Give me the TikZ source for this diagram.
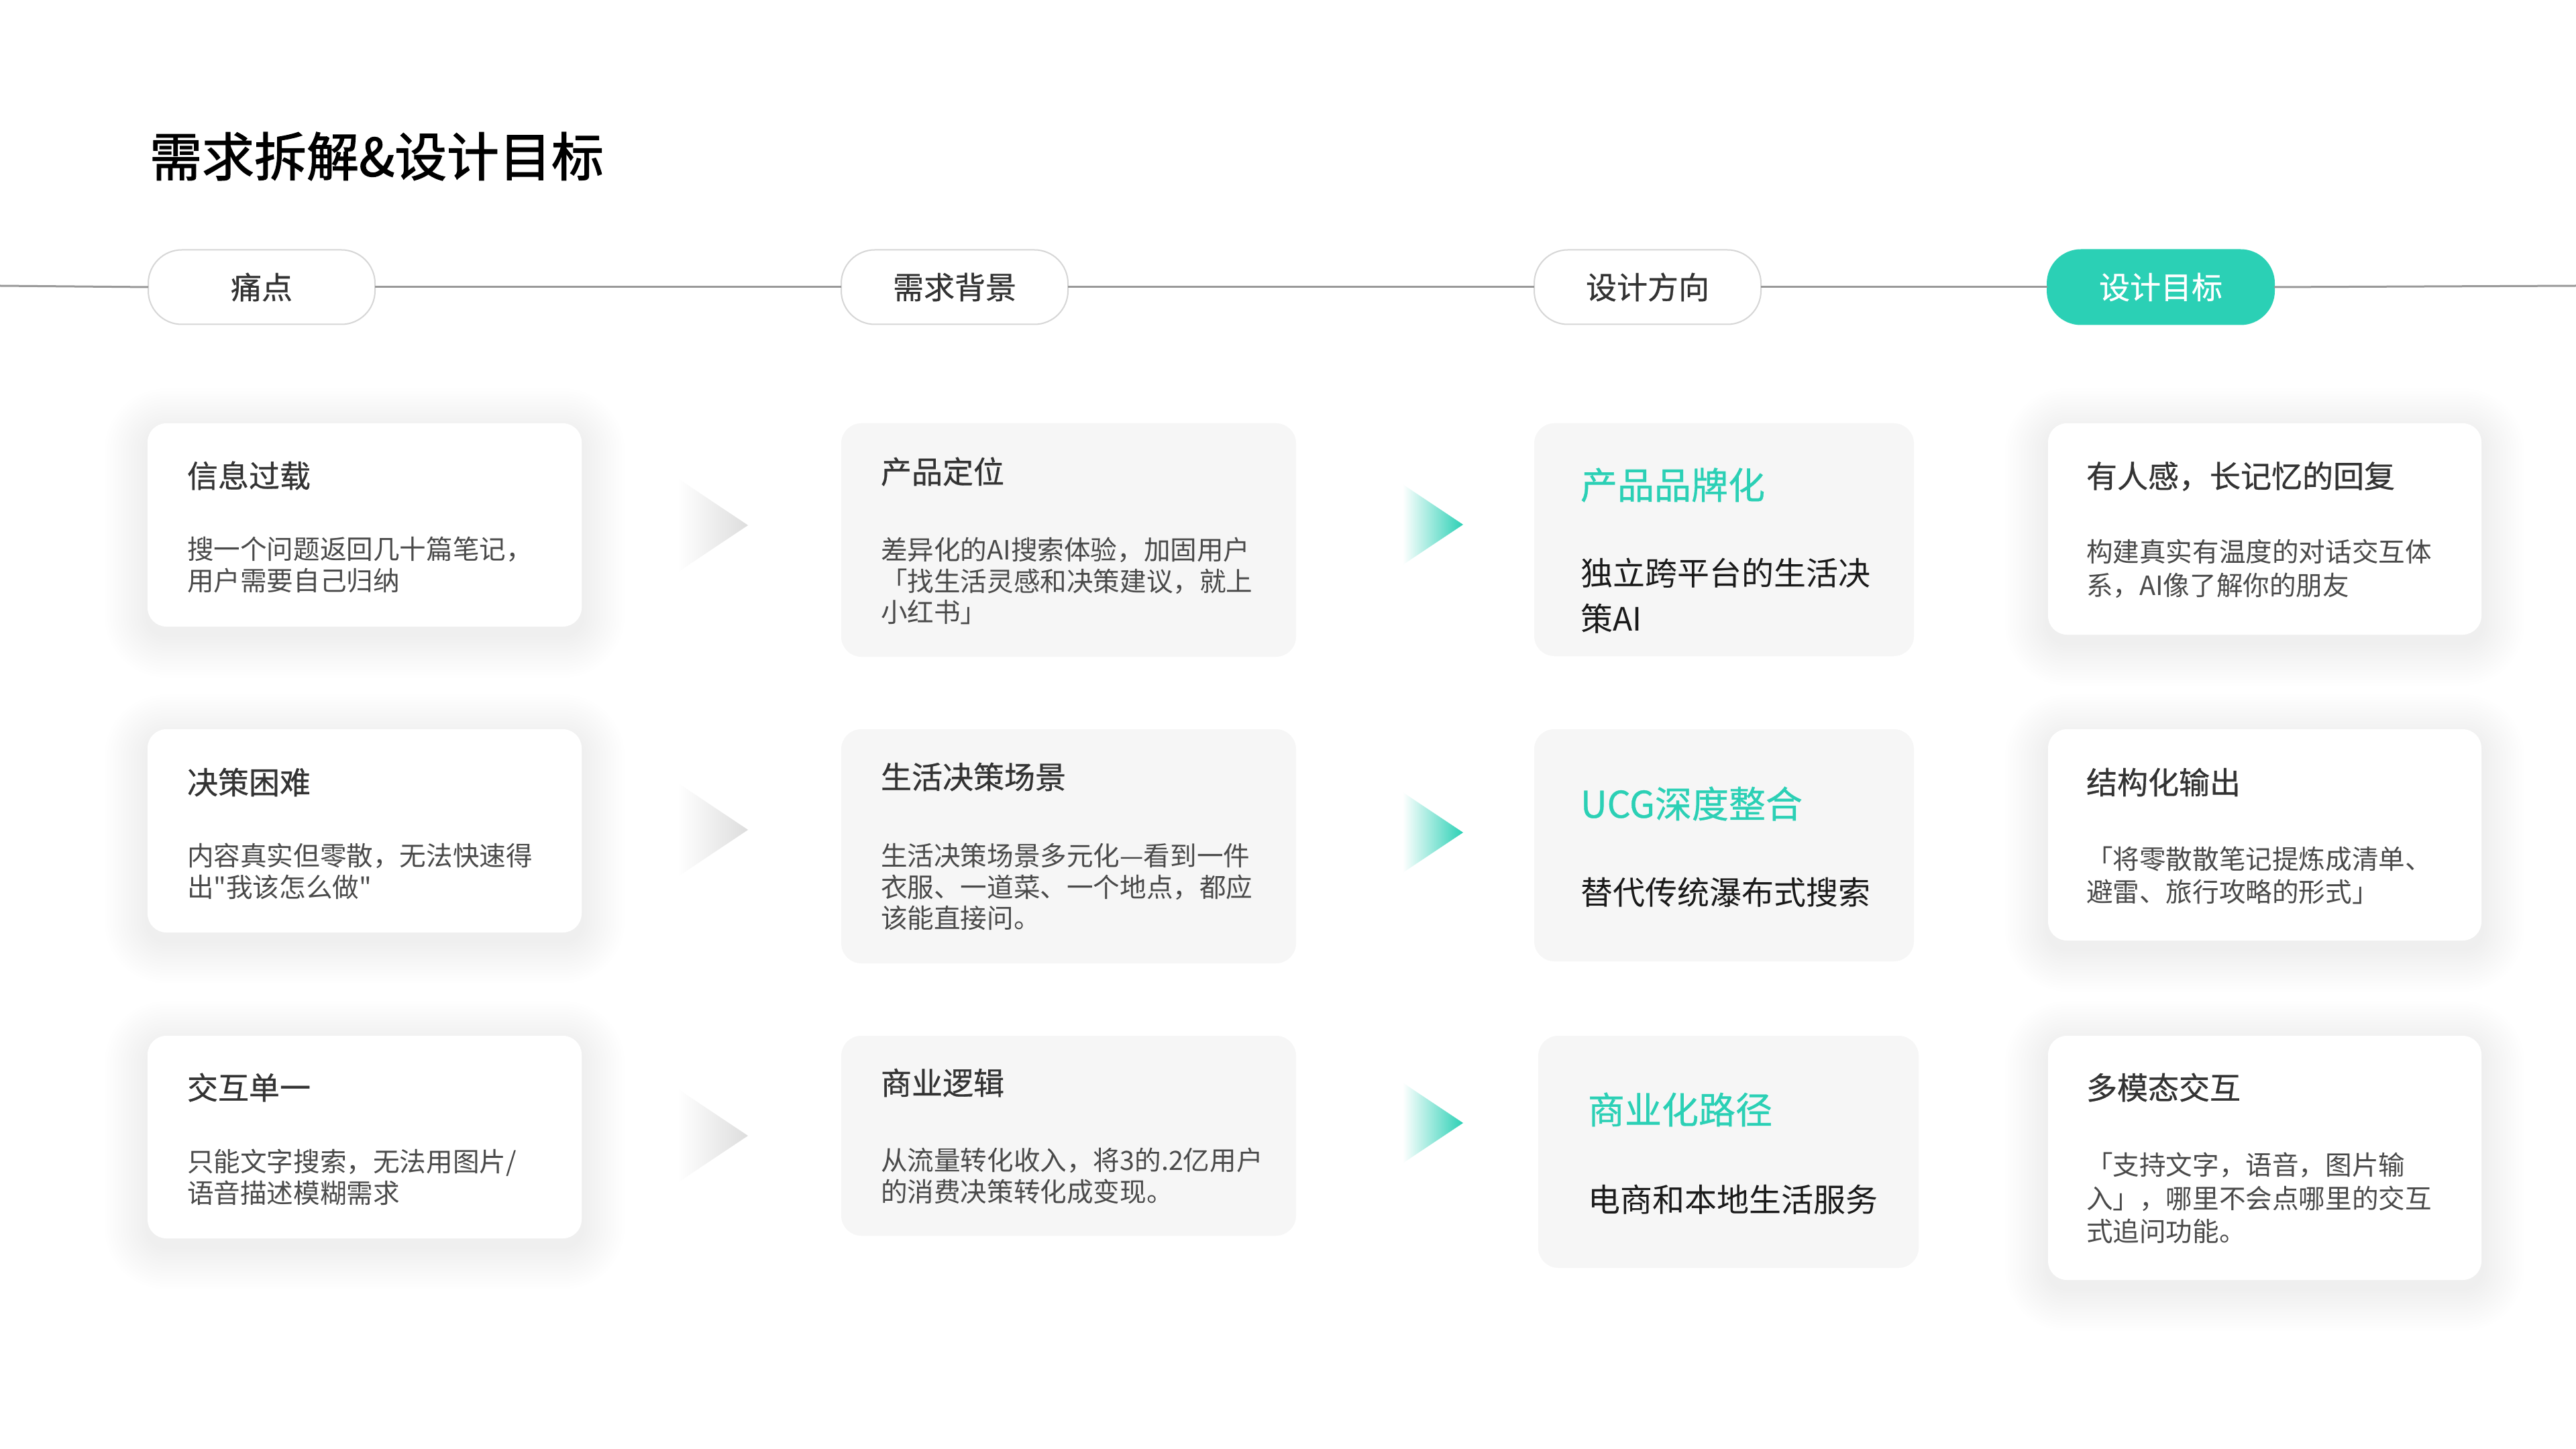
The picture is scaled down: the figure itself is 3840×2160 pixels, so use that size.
\documentclass[tikz,border=0pt]{standalone}
\usepackage{fontspec}
\setmainfont{Noto Sans CJK SC}[Ligatures=TeXOff]
\newfontfamily\cjkmed{Noto Sans CJK SC}[FakeBold=0.6,Ligatures=TeXOff]
\newfontfamily\cjkhead{Noto Sans CJK SC}[FakeBold=1.6]
\usetikzlibrary{fit}
\definecolor{accent}{HTML}{2BD0B5}
\definecolor{cardgray}{HTML}{F6F6F6}
\definecolor{pillborder}{HTML}{D6D6D6}
\definecolor{linegray}{HTML}{999999}
\definecolor{arrowgray}{HTML}{DDDDDD}
\definecolor{ttlink}{HTML}{333333}
\definecolor{bodyink}{HTML}{4A4A4A}
\definecolor{darkink}{HTML}{1A1A1A}
\newcommand\softcardshadow[4]{%
  \foreach \k in {1,...,16}{%
    \pgfmathsetmacro\rr{7+\k*1}%
    \fill[black, opacity=0.0045, rounded corners=\rr pt]
      ({#1-\k*4},{#2-\k*4+12}) rectangle ({#3+\k*4},{#4+\k*4+12});
  }}
\tikzset{
  base/.style={inner sep=0pt, outer sep=0pt},
  wcard/.style={base, fill=white, rounded corners=7pt},
  gcard/.style={base, fill=cardgray, rounded corners=7.5pt},
  pill/.style={base, draw=pillborder, line width=0.5pt, fill=white, rounded corners=12.5pt,
    minimum width=84.5pt, minimum height=27.75pt, text=ttlink,
    font=\cjkmed\fontsize{11.5pt}{13pt}\selectfont},
  pillon/.style={pill, draw=accent, fill=accent, text=white},
  hline/.style={draw=linegray, line width=0.75pt},
  ttl/.style={base, anchor=west, text=ttlink, font=\cjkmed\fontsize{11.5pt}{13pt}\selectfont},
  bodytxt/.style={base, anchor=west, align=left, text=bodyink, font=\fontsize{9.9pt}{11.6pt}\selectfont},
  bodyfour/.style={bodytxt, font=\fontsize{9.9pt}{12.4pt}\selectfont},
  dirttl/.style={base, anchor=west, text=accent, font=\cjkmed\fontsize{13.75pt}{16pt}\selectfont},
  dirbody/.style={base, anchor=west, align=left, text=darkink, font=\fontsize{12pt}{17pt}\selectfont},
  maintitle/.style={base, anchor=west, text=black, font=\cjkhead\fontsize{19.5pt}{22pt}\selectfont},
}
\begin{document}
\begin{tikzpicture}[x=0.25pt,y=-0.25pt]
\useasboundingbox (0,0) rectangle (3840,2160);
\fill[white] (0,0) rectangle (3840,2160);

% title
\node[maintitle] (title) at (223,233) {需求拆解\&设计目标};

% timeline
\coordinate (lineL) at (0,426);
\coordinate (lineR) at (3840,426);
\node[pill] (p1) at (390,428) {痛点};
\node[pill] (p2) at (1423,428) {需求背景};
\node[pill] (p3) at (2456,428) {设计方向};
\node[pillon] (p4) at (3221,428) {设计目标};
\draw[hline] (lineL) -- (p1.west);
\draw[hline] (p1.east) -- (p2.west);
\draw[hline] (p2.east) -- (p3.west);
\draw[hline] (p3.east) -- (p4.west);
\draw[hline] (p4.east) -- (lineR);

% soft shadows of the white cards
\softcardshadow{220}{631}{867}{934}
\softcardshadow{220}{1087}{867}{1390}
\softcardshadow{220}{1544}{867}{1846}
\softcardshadow{3053}{631}{3699}{946}
\softcardshadow{3053}{1087}{3699}{1402}
\softcardshadow{3053}{1544}{3699}{1908}

% column 1 cards
\node[wcard, fit={(220,631) (867,934)}] (c11) {};
\node[wcard, fit={(220,1087) (867,1390)}] (c12) {};
\node[wcard, fit={(220,1544) (867,1846)}] (c13) {};
% column 2 cards
\node[gcard, fit={(1254,631) (1932,979)}] (c21) {};
\node[gcard, fit={(1254,1087) (1932,1436)}] (c22) {};
\node[gcard, fit={(1254,1544) (1932,1842)}] (c23) {};
% column 3 cards
\node[gcard, fit={(2287,631) (2853,978)}] (c31) {};
\node[gcard, fit={(2287,1087) (2853,1433)}] (c32) {};
\node[gcard, fit={(2293,1544) (2860,1890)}] (c33) {};
% column 4 cards
\node[wcard, fit={(3053,631) (3699,946)}] (c41) {};
\node[wcard, fit={(3053,1087) (3699,1402)}] (c42) {};
\node[wcard, fit={(3053,1544) (3699,1908)}] (c43) {};

% gray arrows
\shade[left color=white, right color=arrowgray] (1010,713) -- (1115,783) -- (1010,853) -- cycle;
\shade[left color=white, right color=arrowgray] (1010,1167) -- (1115,1237) -- (1010,1307) -- cycle;
\shade[left color=white, right color=arrowgray] (1010,1623) -- (1115,1693) -- (1010,1763) -- cycle;
% teal arrows
\shade[left color=white, right color=accent] (2091,722) -- (2181,782) -- (2091,842) -- cycle;
\shade[left color=white, right color=accent] (2091,1181) -- (2181,1241) -- (2091,1301) -- cycle;
\shade[left color=white, right color=accent] (2091,1614) -- (2181,1674) -- (2091,1734) -- cycle;

% column 1 text
\node[ttl] (t11) at (279,709) {信息过载};
\node[bodytxt] (b11) at (279,842) {搜一个问题返回几十篇笔记，\\用户需要自己归纳};
\node[ttl] (t12) at (279,1166) {决策困难};
\node[bodytxt] (b12) at (279,1299) {内容真实但零散，无法快速得\\出"我该怎么做"};
\node[ttl] (t13) at (279,1621) {交互单一};
\node[bodytxt] (b13) at (279,1755) {只能文字搜索，无法用图片/\\语音描述模糊需求};

% column 2 text
\node[ttl] (t21) at (1313,703) {产品定位};
\node[bodytxt] (b21) at (1313,866) {差异化的AI搜索体验，加固用户\\「找生活灵感和决策建议，就上\\小红书」};
\node[ttl] (t22) at (1313,1158) {生活决策场景};
\node[bodytxt] (b22) at (1313,1322) {生活决策场景多元化—看到一件\\衣服、一道菜、一个地点，都应\\该能直接问。};
\node[ttl] (t23) at (1313,1614) {商业逻辑};
\node[bodytxt] (b23) at (1313,1753) {从流量转化收入，将3的.2亿用户\\的消费决策转化成变现。};

% column 3 text
\node[dirttl] (t31) at (2356,723) {产品品牌化};
\node[dirbody] (b31) at (2356,888) {独立跨平台的生活决\\策AI};
\node[dirttl] (t32) at (2356,1198) {UCG深度整合};
\node[dirbody] (b32) at (2356,1330) {替代传统瀑布式搜索};
\node[dirttl] (t33) at (2367,1654) {商业化路径};
\node[dirbody] (b33) at (2367,1788) {电商和本地生活服务};

% column 4 text
\node[ttl] (t41) at (3110,710) {有人感，长记忆的回复};
\node[bodyfour] (b41) at (3110,848) {构建真实有温度的对话交互体\\系，AI像了解你的朋友};
\node[ttl] (t42) at (3110,1166) {结构化输出};
\node[bodyfour] (b42) at (3110,1305) {「将零散散笔记提炼成清单、\\避雷、旅行攻略的形式」};
\node[ttl] (t43) at (3110,1621) {多模态交互};
\node[bodyfour] (b43) at (3110,1786) {「支持文字，语音，图片输\\入」，哪里不会点哪里的交互\\式追问功能。};
\end{tikzpicture}
\end{document}
